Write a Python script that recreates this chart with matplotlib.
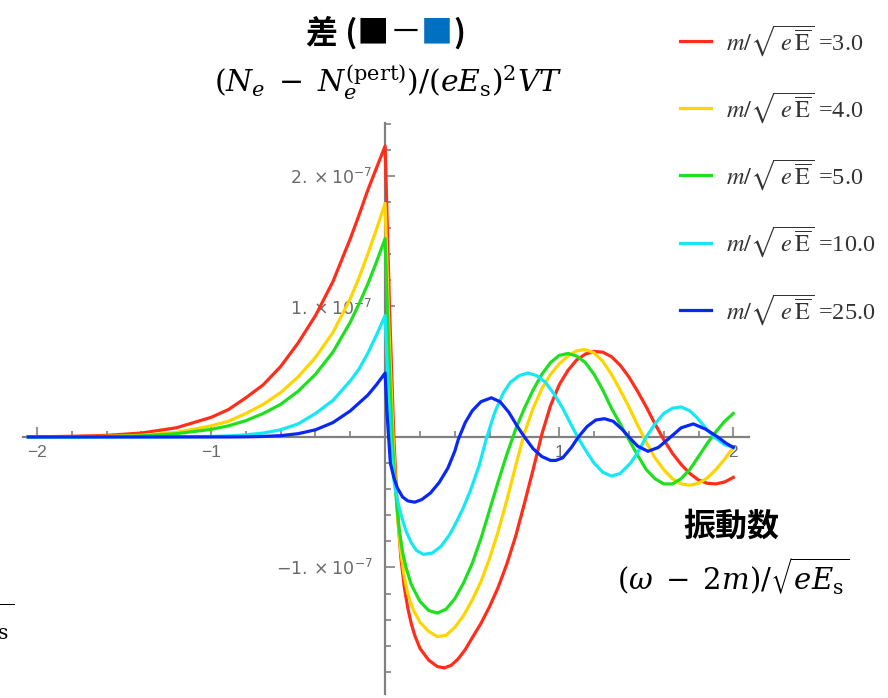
import numpy as np
import matplotlib
matplotlib.use("Agg")
import matplotlib.pyplot as plt

# values are in units of 1e-7
red_x = [-2.05, -1.8, -1.6, -1.4, -1.2, -1.0, -0.9, -0.8, -0.7, -0.6, -0.5, -0.4, -0.3, -0.2, -0.15, -0.1, -0.05, 0.0,
         0.025, 0.05, 0.07, 0.09, 0.11, 0.13, 0.15, 0.17, 0.2, 0.25, 0.3, 0.34, 0.38, 0.42, 0.46, 0.5, 0.55, 0.6, 0.65,
         0.7, 0.75, 0.8, 0.85, 0.9, 0.95, 1.0, 1.05, 1.1, 1.15, 1.2, 1.25, 1.3, 1.35, 1.4, 1.45, 1.5, 1.55, 1.6,
         1.65, 1.7, 1.75, 1.8, 1.85, 1.9, 1.95, 2.0]
red_y = [0.0, 0.005, 0.012, 0.03, 0.07, 0.15, 0.21, 0.30, 0.40, 0.54, 0.72, 0.93, 1.19, 1.52, 1.70, 1.89, 2.06, 2.23,
         1.0, 0.0, -0.55, -0.92, -1.15, -1.31, -1.43, -1.52, -1.62, -1.71, -1.76, -1.77, -1.75, -1.70, -1.63, -1.54,
         -1.43, -1.30, -1.15, -0.97, -0.76, -0.51, -0.25, 0.02, 0.24, 0.40, 0.51, 0.59, 0.635, 0.655, 0.65, 0.615,
         0.55, 0.46, 0.35, 0.23, 0.10, -0.02, -0.125, -0.21, -0.28, -0.33, -0.355, -0.36, -0.345, -0.31]

yellow_x = [-2.05, -1.8, -1.6, -1.4, -1.2, -1.0, -0.9, -0.8, -0.7, -0.6, -0.5, -0.4, -0.3, -0.2, -0.15, -0.1, -0.05, 0.0,
            0.02, 0.045, 0.07, 0.09, 0.11, 0.13, 0.16, 0.2, 0.25, 0.3, 0.35, 0.4, 0.45, 0.5, 0.55, 0.6, 0.65, 0.7,
            0.75, 0.8, 0.85, 0.9, 0.95, 1.0, 1.05, 1.1, 1.15, 1.2, 1.25, 1.3, 1.35, 1.4, 1.45, 1.5, 1.55, 1.6, 1.65,
            1.7, 1.75, 1.8, 1.85, 1.9, 1.95, 2.0]
yellow_y = [0.0, 0.002, 0.005, 0.012, 0.035, 0.085, 0.12, 0.18, 0.25, 0.34, 0.46, 0.61, 0.80, 1.06, 1.22, 1.40, 1.59,
            1.79, 0.9, 0.0, -0.6, -0.88, -1.07, -1.20, -1.32, -1.42, -1.49, -1.53, -1.52, -1.46, -1.37, -1.25, -1.11,
            -0.93, -0.72, -0.48, -0.22, 0.03, 0.22, 0.37, 0.48, 0.56, 0.62, 0.66, 0.67, 0.645, 0.58, 0.48, 0.36, 0.23,
            0.09, -0.04, -0.16, -0.25, -0.32, -0.36, -0.37, -0.355, -0.315, -0.25, -0.17, -0.08]

green_x = [-2.05, -1.8, -1.6, -1.4, -1.2, -1.0, -0.9, -0.8, -0.7, -0.6, -0.5, -0.4, -0.3, -0.2, -0.15, -0.1, -0.05, 0.0,
           0.02, 0.04, 0.06, 0.08, 0.1, 0.12, 0.15, 0.2, 0.25, 0.3, 0.35, 0.4, 0.45, 0.5, 0.55, 0.6, 0.65, 0.7,
           0.75, 0.8, 0.85, 0.9, 0.95, 1.0, 1.05, 1.1, 1.15, 1.2, 1.25, 1.3, 1.35, 1.4, 1.45, 1.5, 1.55, 1.6, 1.65,
           1.7, 1.75, 1.8, 1.85, 1.9, 1.95, 2.0]
green_y = [0.0, 0.001, 0.003, 0.008, 0.025, 0.058, 0.085, 0.125, 0.18, 0.25, 0.35, 0.48, 0.65, 0.88, 1.02, 1.17, 1.34,
           1.52, 0.7, 0.0, -0.42, -0.70, -0.88, -1.0, -1.13, -1.26, -1.33, -1.35, -1.32, -1.24, -1.12, -0.97, -0.78,
           -0.56, -0.34, -0.13, 0.06, 0.22, 0.36, 0.48, 0.57, 0.625, 0.64, 0.62, 0.57, 0.48, 0.36, 0.22, 0.10, -0.02,
           -0.14, -0.25, -0.32, -0.36, -0.36, -0.32, -0.25, -0.15, -0.05, 0.04, 0.12, 0.18]

cyan_x = [-2.05, -1.6, -1.2, -1.0, -0.9, -0.8, -0.7, -0.6, -0.5, -0.4, -0.3, -0.2, -0.15, -0.1, -0.05, 0.0,
          0.015, 0.03, 0.05, 0.07, 0.09, 0.12, 0.15, 0.18, 0.22, 0.27, 0.32, 0.37, 0.41, 0.45, 0.49, 0.54, 0.58,
          0.63, 0.68, 0.72, 0.77, 0.82, 0.87, 0.92, 0.97, 1.02, 1.07, 1.11, 1.16, 1.2, 1.25, 1.3, 1.35, 1.41, 1.45,
          1.5, 1.55, 1.6, 1.65, 1.7, 1.75, 1.79, 1.84, 1.89, 1.95, 2.0]
cyan_y = [0.0, 0.0, 0.001, 0.004, 0.008, 0.016, 0.03, 0.055, 0.10, 0.18, 0.28, 0.43, 0.52, 0.64, 0.78, 0.93,
          0.45, 0.0, -0.33, -0.48, -0.59, -0.72, -0.81, -0.87, -0.90, -0.89, -0.84, -0.75, -0.65, -0.54, -0.41, -0.22,
          -0.02, 0.19, 0.34, 0.42, 0.47, 0.49, 0.47, 0.42, 0.33, 0.22, 0.09, -0.01, -0.12, -0.20, -0.27, -0.30, -0.28,
          -0.20, -0.12, 0.0, 0.10, 0.18, 0.22, 0.23, 0.20, 0.15, 0.07, 0.0, -0.06, -0.08]

blue_x = [-2.05, -1.2, -0.9, -0.8, -0.7, -0.6, -0.5, -0.4, -0.3, -0.2, -0.15, -0.1, -0.05, 0.0,
          0.01, 0.02, 0.03, 0.05, 0.07, 0.1, 0.13, 0.17, 0.21, 0.26, 0.31, 0.36, 0.4, 0.42, 0.46, 0.5, 0.55, 0.61,
          0.66, 0.71, 0.76, 0.8, 0.85, 0.9, 0.95, 0.98, 1.02, 1.07, 1.11, 1.16, 1.21, 1.26, 1.31, 1.36, 1.4, 1.45,
          1.51, 1.57, 1.64, 1.7, 1.77, 1.84, 1.91, 1.96, 2.0]
blue_y = [0.0, 0.0, 0.0, 0.001, 0.004, 0.01, 0.025, 0.055, 0.11, 0.20, 0.26, 0.32, 0.40, 0.49,
          0.2, 0.0, -0.2, -0.31, -0.39, -0.46, -0.49, -0.50, -0.48, -0.43, -0.35, -0.24, -0.11, -0.02, 0.11, 0.20, 0.27,
          0.30, 0.27, 0.19, 0.08, 0.0, -0.09, -0.15, -0.18, -0.18, -0.16, -0.08, 0.0, 0.08, 0.13, 0.14, 0.12, 0.06,
          0.0, -0.07, -0.11, -0.08, 0.0, 0.07, 0.10, 0.06, 0.0, -0.05, -0.08]

curves = [
    (red_x, red_y, "#ff2d1a", "3.0"),
    (yellow_x, yellow_y, "#ffd500", "4.0"),
    (green_x, green_y, "#1ee01e", "5.0"),
    (cyan_x, cyan_y, "#14e8f5", "10.0"),
    (blue_x, blue_y, "#0a28f5", "25.0"),
]

W, H = 888, 698
CJK = ["Noto Sans CJK JP", "DejaVu Sans"]


def fx(px):
    return px / W


def fy(py):
    return 1 - py / H


fig = plt.figure(figsize=(W / 100, H / 100), dpi=100)
ax = fig.add_axes([fx(23), fy(694), (749 - 23) / W, (694 - 122.5) / H])

handles = []
for xs, ys, col, m in curves:
    ln, = ax.plot(xs, np.array(ys) * 1e-7, color=col, lw=2.3, zorder=3)
    handles.append(ln)

ax.set_xlim(-2.08, 2.09)
ax.set_ylim(-1.97e-7, 2.41e-7)

axis_col = "#808080"
for s in ["top", "right"]:
    ax.spines[s].set_visible(False)
for s in ["left", "bottom"]:
    ax.spines[s].set_position("zero")
    ax.spines[s].set_color(axis_col)
    ax.spines[s].set_linewidth(1.6)

ax.set_xticks([-2, -1, 1, 2], labels=["\u22122", "\u22121", "1", "2"])
ax.set_xticks([v for v in np.round(np.arange(-2.0, 2.01, 0.2), 1) if v not in (-2, -1, 0, 1, 2)], minor=True)
ax.set_yticks([-1e-7, 1e-7, 2e-7],
              labels=[r"$-1.\times10^{-7}$", r"$1.\times10^{-7}$", r"$2.\times10^{-7}$"])
ax.set_yticks([v * 1e-7 for v in np.round(np.arange(-1.8, 2.41, 0.2), 1) if v not in (-1, 0, 1, 2)], minor=True)

ax.tick_params(which="both", direction="in", color=axis_col, width=1.2, labelcolor="#6a6a6a", labelsize=12.5)
ax.tick_params(which="major", length=7)
ax.tick_params(which="minor", length=4)
ax.tick_params(axis="x", pad=6)
ax.tick_params(axis="y", pad=9)
for t in ax.get_xticklabels():
    t.set_family("Liberation Sans")

# legend
labels = [r"$m/\sqrt{\;e\,\overline{\mathrm{E}}}$ =" + c[3] for c in curves]
leg = fig.legend(handles, labels, loc="upper left", bbox_to_anchor=(fx(658), fy(1)),
                 frameon=False, prop={"family": "Liberation Serif", "size": 17.5},
                 handlelength=1.3, handletextpad=0.6, labelspacing=1.33)
for t in leg.get_texts():
    t.set_math_fontfamily("stix")
    t.set_color("#333333")

# titles
r = fig.canvas.get_renderer()
ty = fy(33)
t1 = fig.text(fx(306), ty, "差 (■", fontsize=23, fontweight="bold", family=CJK, va="center", ha="left")
bb = t1.get_window_extent(r)
t2 = fig.text(bb.x1 / W, ty, "－", fontsize=23, family=CJK, va="center", ha="left")
bb = t2.get_window_extent(r)
t3 = fig.text(bb.x1 / W, ty, "■", fontsize=23, fontweight="bold", family=CJK, va="center", ha="left",
              color="#0070c0")
bb = t3.get_window_extent(r)
fig.text(bb.x1 / W, ty, ")", fontsize=23, fontweight="bold", family=CJK, va="center", ha="left")

fig.text(fx(388), fy(82), r"$(N_e\;-\;N_e^{(\mathrm{pert})})/(eE_\mathrm{s})^2VT$", ha="center", va="center",
         fontsize=21.5, math_fontfamily="dejavuserif")

fig.text(fx(731), fy(527), "振動数", fontsize=23, fontweight="bold", family=CJK, ha="center", va="center")
freq = r"$(\omega\;-\;2m)/\sqrt{eE_\mathrm{s}}$"
fig.text(fx(733), fy(576), freq, ha="center", va="center", fontsize=21, math_fontfamily="dejavuserif")
# cut-off copy at the lower-left edge
fig.text(fx(14), fy(621), freq, ha="right", va="center", fontsize=21, math_fontfamily="dejavuserif")

fig.savefig("out.png", dpi=100)
